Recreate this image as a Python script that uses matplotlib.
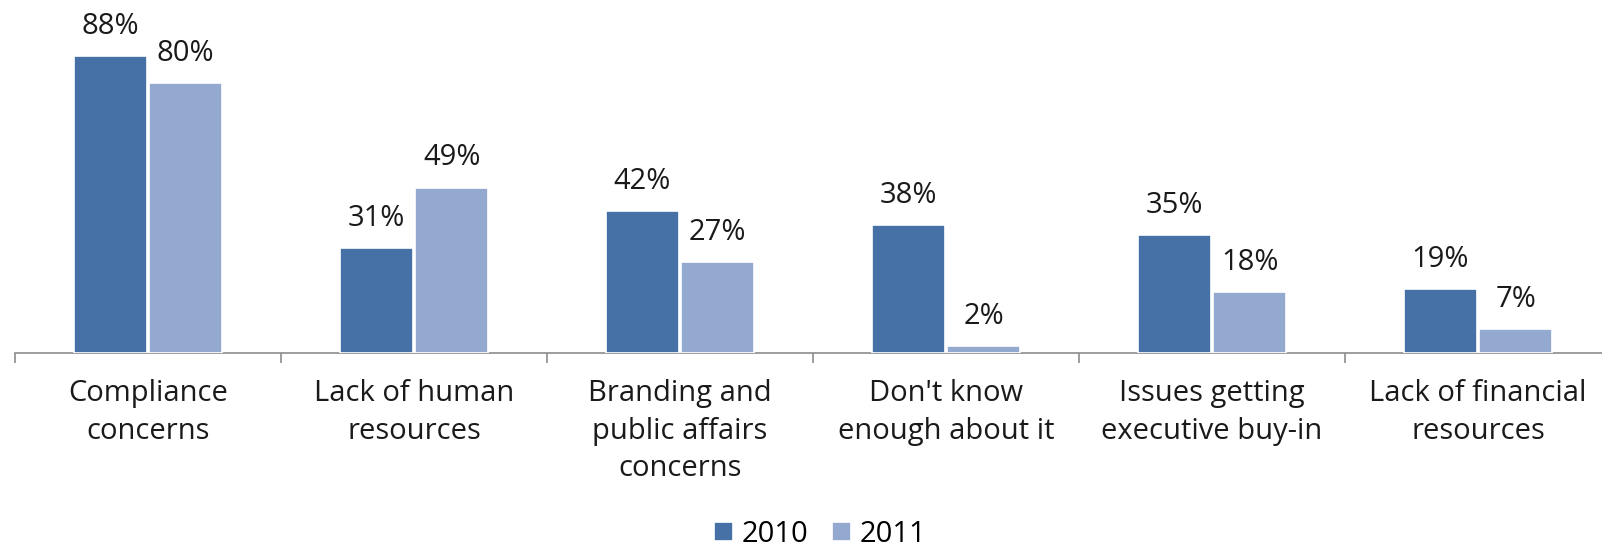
import matplotlib
matplotlib.use("Agg")
import matplotlib.pyplot as plt
import numpy as np

categories = ["Compliance\nconcerns", "Lack of human\nresources", "Branding and\npublic affairs\nconcerns",
              "Don't know\nenough about it", "Issues getting\nexecutive buy-in", "Lack of financial\nresources"]
series_names = ["2010", "2011"]
values_2010 = [88, 31, 42, 38, 35, 19]
values_2011 = [80, 49, 27, 2, 18, 7]
colors = ["#4571A6", "#94A9CF"]

plt.rcParams['font.family'] = ['Open Sans', 'DejaVu Sans']

W, H = 1602, 547
fig = plt.figure(figsize=(W / 100, H / 100), dpi=100)
ax_left = 15 / W
ax_bottom = (H - 353) / H
ax_w = 1596 / W
ax_h = 353 / H
ax = fig.add_axes([ax_left, ax_bottom, ax_w, ax_h])

x = np.arange(len(categories))
bw = 0.275
off = 0.142
b1 = ax.bar(x - off, values_2010, bw, color=colors[0], edgecolor="white", linewidth=1.2, label=series_names[0], zorder=3)
b2 = ax.bar(x + off, values_2011, bw, color=colors[1], edgecolor="white", linewidth=1.2, label=series_names[1], zorder=3)

for bars, vals in ((b1, values_2010), (b2, values_2011)):
    for r, v in zip(bars, vals):
        ax.annotate(f"{v}%", (r.get_x() + r.get_width() / 2, r.get_height()),
                    xytext=(0, 16), textcoords="offset points", ha="center", va="baseline",
                    fontsize=21, color="#1a1a1a")

ax.set_xlim(-0.5, len(categories) - 0.5)
ax.set_ylim(0, 353 / 3.375)
ax.set_yticks([])
for s in ["top", "right", "left"]:
    ax.spines[s].set_visible(False)
ax.spines["bottom"].set_color("#8c8c8c")
ax.spines["bottom"].set_linewidth(1.2)

ax.set_xticks(np.arange(len(categories) + 1) - 0.5)
ax.set_xticklabels([])
ax.tick_params(axis="x", which="major", length=7, color="#8c8c8c", width=1.2)
ax.set_xticks(x, minor=True)
ax.set_xticklabels(categories, minor=True, fontsize=21, color="#1a1a1a", linespacing=1.38)
ax.tick_params(axis="x", which="minor", length=0, pad=19)

fig.legend(handles=[b1, b2], labels=series_names, loc="center", bbox_to_anchor=(820 / W, 1 - 534 / H),
           ncol=2, frameon=False, fontsize=21, handlelength=0.65, handleheight=0.65, handletextpad=0.3,
           columnspacing=0.8, borderpad=0)

fig.savefig("out.png", dpi=100)
